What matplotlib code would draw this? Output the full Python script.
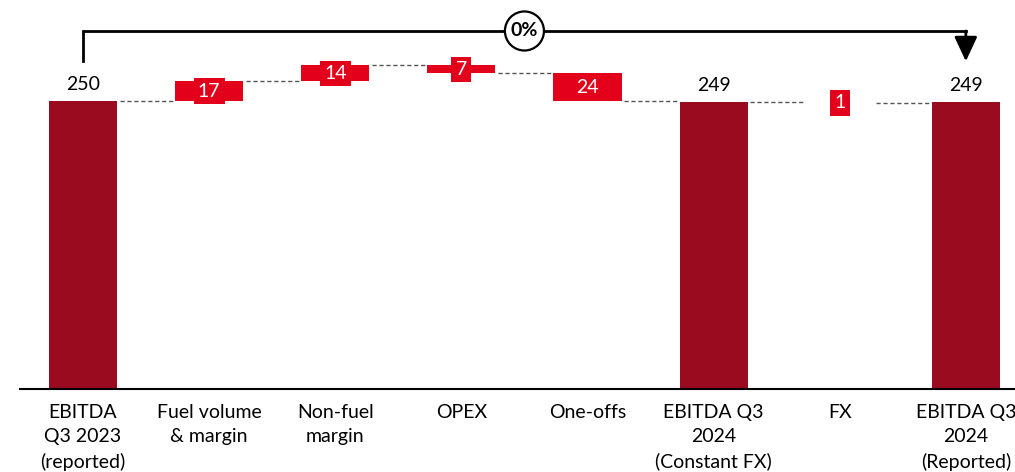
import numpy as np
import matplotlib.pyplot as plt

plt.rcParams['font.family'] = ['Lato', 'DejaVu Sans']

#================================================================
# data
categories = ['EBITDA\nQ3 2023\n(reported)', 'Fuel volume\n& margin', 'Non-fuel\nmargin',
              'OPEX', 'One-offs', 'EBITDA Q3\n2024\n(Constant FX)', 'FX',
              'EBITDA Q3\n2024\n(Reported)']
values = [250, 17, 14, -7, -24, 249, -1, 249]
is_total = [True, False, False, False, False, True, False, True]
bracket_label = '0%'

DARK = '#9b0b1f'
RED = '#e2001a'
#================================================================
fig = plt.figure(figsize=(10.15, 4.72), dpi=100)
ax = fig.add_axes([20 / 1015, 83 / 472, 995 / 1015, 389 / 472])

x = np.arange(len(values))
width = 0.54
bottoms, heights, ends = [], [], []
level = 0
for v, tot in zip(values, is_total):
    if tot:
        bottoms.append(0)
        heights.append(v)
        level = v
    else:
        bottoms.append(level)
        heights.append(v)
        level = level + v
    ends.append(level)

# very small moves are hidden behind their label box
visible = [tot or abs(v) > 1 for v, tot in zip(values, is_total)]
colors = [DARK if t else RED for t in is_total]
for i in range(len(values)):
    if visible[i]:
        ax.bar(x[i], heights[i], bottom=bottoms[i], width=width, color=colors[i], zorder=2)

# value labels
for i, (v, tot) in enumerate(zip(values, is_total)):
    if tot:
        ax.annotate(str(v), (x[i], v), xytext=(0, 6), textcoords='offset points',
                    ha='center', va='bottom', fontsize=14, color='black')
    else:
        ax.text(x[i], bottoms[i] + heights[i] / 2, str(abs(v)), ha='center', va='center',
                fontsize=14, color='white', zorder=3,
                bbox=dict(boxstyle='square,pad=0.22', fc=RED, ec='none'))

# dashed connectors between bars
for i in range(len(values) - 1):
    ax.plot([x[i] + width / 2 + 0.02, x[i + 1] - width / 2 - 0.02], [ends[i], ends[i]],
            ls=(0, (3, 2)), color='#555555', lw=1, zorder=1)

# bracket from first to last total
y_low = values[0] + 34.5
y_top = values[0] + 60.8
ax.plot([x[0], x[0], x[-1]], [y_low, y_top, y_top], color='black', lw=2,
        solid_joinstyle='miter', clip_on=False)
ax.annotate('', xy=(x[-1], values[-1] + 35.5), xytext=(x[-1], y_top),
            arrowprops=dict(arrowstyle='-|>,head_length=0.75,head_width=0.35', lw=2,
                            color='black', mutation_scale=20, shrinkA=0, shrinkB=0))
ax.text((x[0] + x[-1]) / 2, y_top, bracket_label, ha='center', va='center',
        fontsize=14, fontweight='bold', zorder=4,
        bbox=dict(boxstyle='circle,pad=0.3', fc='white', ec='black', lw=1.6))

ax.set_xlim(-0.5, 7.39)
ax.set_ylim(0, 337.7)
ax.set_xticks(x)
ax.set_xticklabels(categories, fontsize=14, linespacing=1.5)
ax.tick_params(axis='x', length=0, pad=11)
ax.set_yticks([])
for s in ['top', 'right', 'left']:
    ax.spines[s].set_visible(False)
ax.spines['bottom'].set_linewidth(1.5)

fig.savefig('out.png', dpi=100)
